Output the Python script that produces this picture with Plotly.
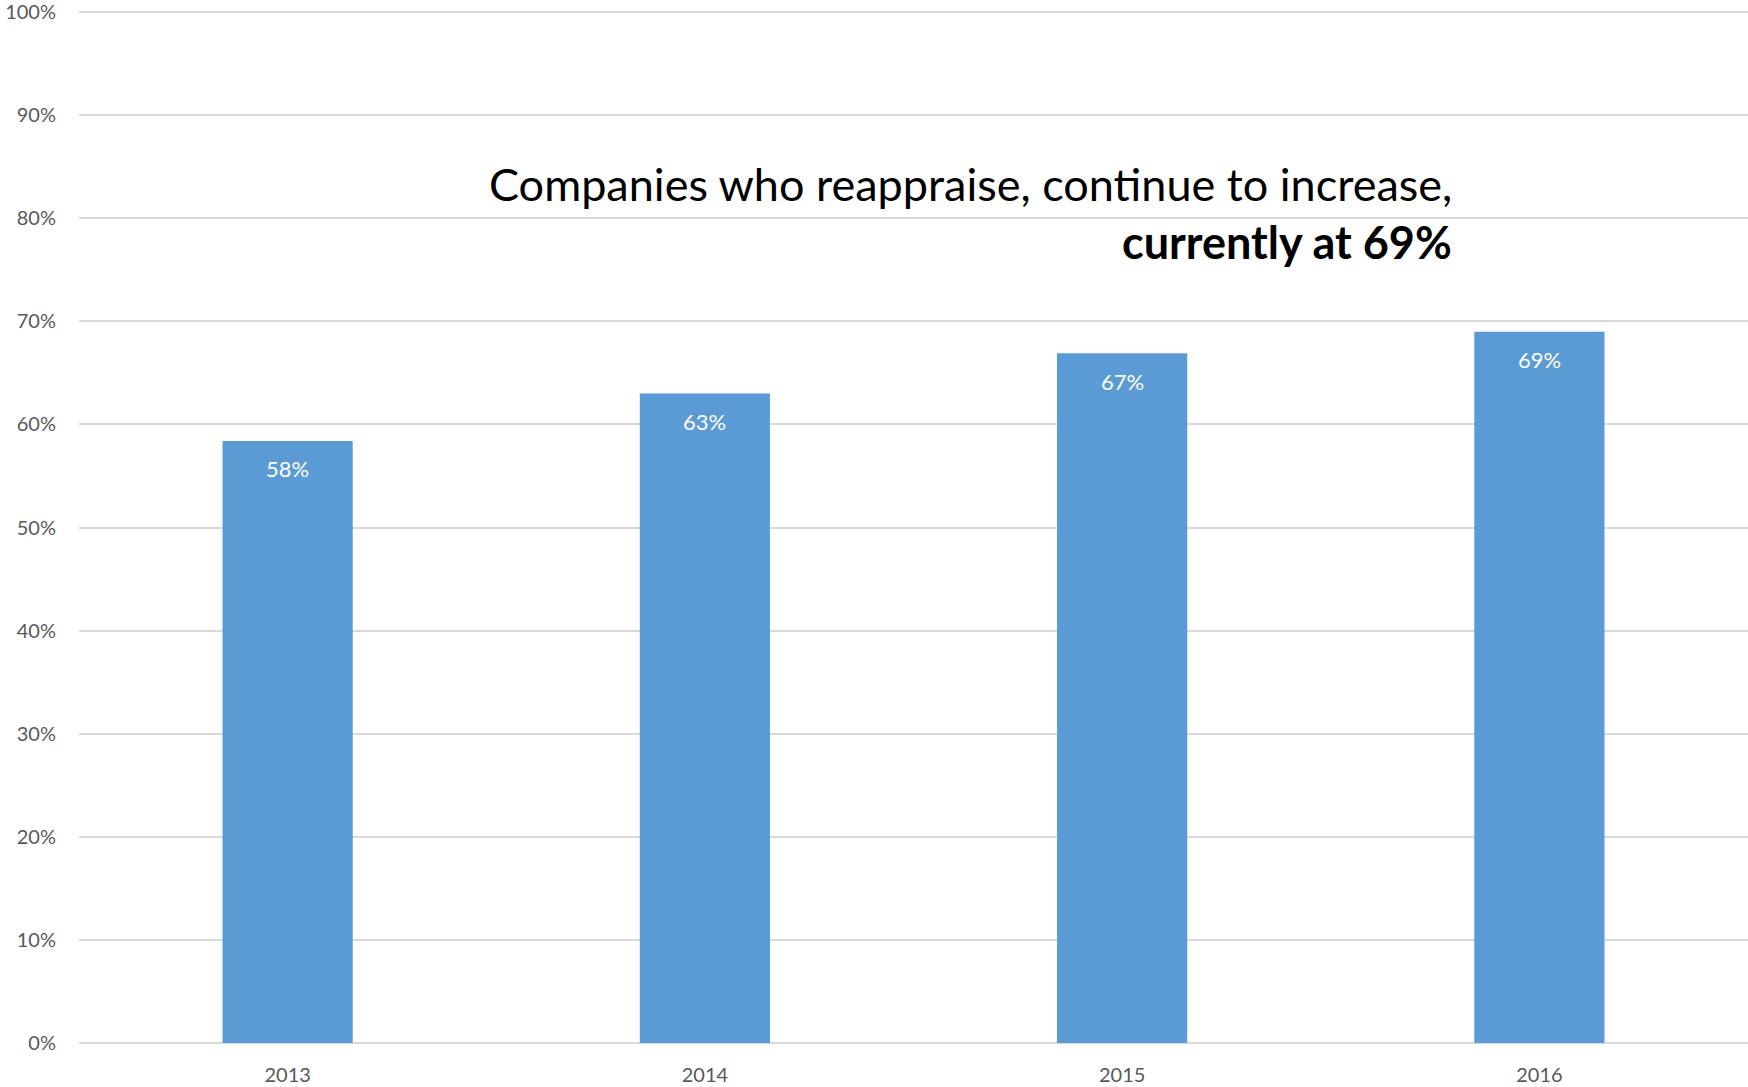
import plotly.graph_objects as go

# Share of companies who reappraise, by survey year
years = ["2013", "2014", "2015", "2016"]
share = [0.584, 0.630, 0.669, 0.690]
y_ticks = [i / 10 for i in range(11)]
y_tick_labels = [f"{i * 10}%" for i in range(11)]

title_line1 = "Companies who reappraise, continue to increase,"
title_line2 = "currently at 69%"

FONT = "Lato, 'Open Sans', sans-serif"
BAR_COLOR = "#5b9bd5"
GRID = "#d9d9d9"
TICK_COLOR = "#595959"

fig = go.Figure(
    go.Bar(
        x=years,
        y=share,
        marker=dict(color=BAR_COLOR, line=dict(width=0)),
        hoverinfo="skip",
    )
)

# value labels just inside the top of each bar (x given as category index)
for i, v in enumerate(share):
    fig.add_annotation(
        x=i, y=v, xref="x", yref="y",
        text=f"{round(v * 100)}%",
        showarrow=False, yanchor="middle", yshift=-28,
        font=dict(family=FONT, size=22, color="white"),
    )

fig.add_annotation(
    x=0.8238, y=0.832, xref="paper", yref="paper",
    text=title_line1, showarrow=False,
    xanchor="right", yanchor="middle",
    font=dict(family=FONT, size=45, color="black"),
)
fig.add_annotation(
    x=0.8238, y=0.776, xref="paper", yref="paper",
    text=f"<b>{title_line2}</b>", showarrow=False,
    xanchor="right", yanchor="middle",
    font=dict(family=FONT, size=45, color="black"),
)

fig.update_layout(
    width=1748, height=1087,
    margin=dict(l=79, r=0, t=11, b=44),
    paper_bgcolor="white", plot_bgcolor="white",
    bargap=0.688,
    showlegend=False,
    font=dict(family=FONT, size=20, color=TICK_COLOR),
)
fig.update_xaxes(
    type="category", range=[-0.5, len(years) - 0.5],
    showgrid=False, showline=False, ticks="",
    tickfont=dict(family=FONT, size=20, color=TICK_COLOR),
    ticklabelstandoff=18,
)
fig.update_yaxes(
    range=[0, 1.001], tickvals=y_ticks, ticktext=y_tick_labels,
    showgrid=True, gridcolor=GRID, gridwidth=2,
    zeroline=True, zerolinecolor=GRID, zerolinewidth=2,
    showline=False, ticks="",
    tickfont=dict(family=FONT, size=20, color=TICK_COLOR),
    ticklabelstandoff=22, ticklabeloverflow="allow",
)

fig.write_html("out.html")
